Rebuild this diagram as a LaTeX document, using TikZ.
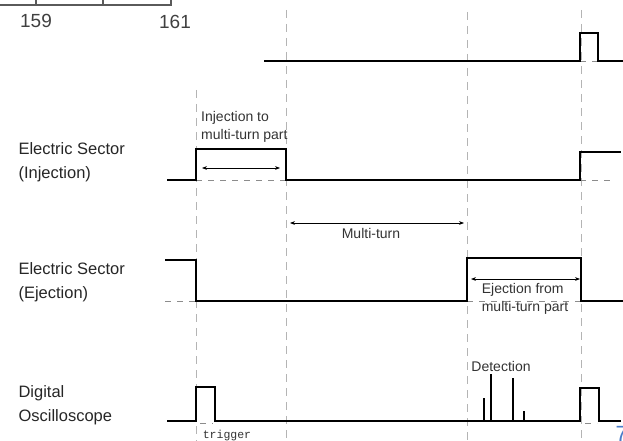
\documentclass[tikz,border=0pt]{standalone}
\usepackage{fontspec}
\setmainfont{Liberation Sans}
\setmonofont{Liberation Mono}
\usetikzlibrary{positioning, arrows.meta, calc}
\definecolor{guidegray}{HTML}{B4B4B4}
\definecolor{basegray}{HTML}{8C8C8C}
\definecolor{axisgray}{HTML}{5A5A5A}
\definecolor{pageblue}{HTML}{4A7CC9}
\tikzset{
  sig/.style    = {line width=2.2pt, line join=miter},
  spike/.style  = {line width=1.3pt},
  guide/.style  = {line width=1pt, draw=guidegray, dash pattern=on 8pt off 6pt},
  base/.style   = {line width=0.9pt, draw=basegray, dash pattern=on 6pt off 6pt},
  dim/.style    = {line width=0.7pt, {Stealth[length=5pt]}-{Stealth[length=5pt]}},
  lab/.style    = {font=\fontsize{16.5}{24}\selectfont, align=left, anchor=west, text=black!85},
  sublab/.style = {font=\fontsize{14}{18}\selectfont, align=left, inner sep=1pt, text=black!80},
}

\begin{document}
\begin{tikzpicture}[x=1pt, y={(0pt,-1pt)}]
\useasboundingbox (0,0) rectangle (623,441);

% Leftover axis of the previous plot (top left)
\draw [axisgray, line width=1.3pt] (0,5) -- (171,5) -- (171,0);
\draw [axisgray, line width=1.2pt] (36,5) -- (36,0) (103,5) -- (103,0);
\node (t159) [font=\fontsize{19}{19}\selectfont, text=black!75] at (36,21) {159};
\node (t161) [font=\fontsize{19}{19}\selectfont, text=black!75] at (175,22) {161};
\node (cut) [font=\fontsize{19}{19}\selectfont, text=black!75] at (-3,57) {)};

% Time marks
\coordinate (tInj)  at (196,0);
\coordinate (tTurn) at (286,0);
\coordinate (tEj)   at (467,0);
\coordinate (tEnd)  at (581,0);

% Vertical guides
\draw [guide] (196,90) -- (196,441);
\draw [guide] (286,10) -- (286,441);
\draw [guide] (467,12) -- (467,441);
\draw [guide] (581,10) -- (581,441);

% Row labels
\node (lInj)   [lab] at (15,162) {Electric Sector\\(Injection)};
\node (lEj)    [lab] at (15,282) {Electric Sector\\(Ejection)};
\node (lScope) [lab] at (15,405) {Digital\\Oscilloscope};

% Top row
\draw [base] (580,61) -- (598,61);
\draw [sig] (264,61) -- (580,61) -- (580,33) -- (598,33) -- (598,61) -- (623,61);

% Electric sector (injection)
\draw [base] (196,180) -- (580,180) (580,180) -- (613,180);
\draw [sig] (167,180) -- (196,180) -- (196,149) -- (286,149) -- (286,180)
            -- (580,180) -- (580,152) -- (621,152);
\coordinate (iA) at (202,168);
\coordinate (iB) at (280,168);
\draw [dim] (iA) -- (iB);
\node (nInj) [sublab, anchor=west] at (200,127) {Injection to\\multi-turn part};

% Multi-turn span
\coordinate (mA) at (290,223);
\coordinate (mB) at (464,223);
\draw [dim] (mA) -- (mB);
\node (nTurn) [sublab] at (371,233) {Multi-turn};

% Electric sector (ejection)
\draw [base] (165,301) -- (196,301) (467,301) -- (581,301);
\draw [sig] (165,260) -- (196,260) -- (196,301) -- (467,301) -- (467,258)
            -- (581,258) -- (581,301) -- (623,301);
\coordinate (eA) at (471,279);
\coordinate (eB) at (580,279);
\draw [dim] (eA) -- (eB);
\node (nEj) [sublab] at (525,299) {Ejection from\\multi-turn part};

% Digital oscilloscope
\draw [base] (200,423) -- (213,423) (585,423) -- (597,423);
\draw [sig] (167,421) -- (196,421) -- (196,387) -- (215,387) -- (215,421)
            -- (580,421) -- (580,388) -- (599,388) -- (599,421) -- (621,421);
\draw [spike] (484,421) -- (484,398) (491,421) -- (491,374)
              (513,421) -- (513,378) (524,421) -- (524,411);
\node (nDet) [sublab] at (501,366) {Detection};
\node (nTrig) [font=\ttfamily\fontsize{11.5}{12}\selectfont, text=black!80, inner sep=1pt] at (227,436) {trigger};

% Page number (cut off)
\node (page) [font=\fontsize{22}{22}\selectfont, text=pageblue, anchor=west] at (612,434) {7};

\end{tikzpicture}
\end{document}
